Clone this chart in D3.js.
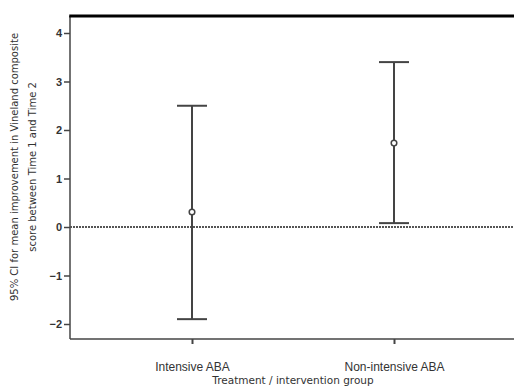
<!DOCTYPE html>
<html>
<head>
<meta charset="utf-8">
<script src="https://cdn.jsdelivr.net/npm/d3@7"></script>
<style>
  body { margin: 0; background: #fff; }
  svg { display: block; font-family: "DejaVu Sans", sans-serif; }
</style>
</head>
<body>
<div class="chart"></div>
<script>
const groups = ["Intensive ABA", "Non-intensive ABA"]
const means = [0.31, 1.73]
const lowers = [-1.9, 0.08]
const uppers = [2.5, 3.4]
const yTicks = [-2, -1, 0, 1, 2, 3, 4]

const width = 514
const height = 387
const margin = { top: 16, right: 0, bottom: 48, left: 70 }

const svg = d3.select(".chart").append("svg")
    .attr("width", width)
    .attr("height", height)

const xScale = d3.scalePoint()
  .domain(groups)
  .range([192, 394])

const yScale = d3.scaleLinear()
  .domain([0, 4])
  .range([227, 33])

const ink = "#444"

// y axis
const yAxis = svg.append("g")
    .attr("transform", `translate(${margin.left},0)`)
    .call(d3.axisLeft(yScale).tickValues(yTicks).tickSize(6).tickFormat(d3.format("d")))
yAxis.select(".domain").remove()
yAxis.selectAll(".tick line").attr("stroke", ink).attr("stroke-width", 1.5)
yAxis.selectAll(".tick text")
    .attr("fill", "#333")
    .attr("font-size", 11)
    .attr("font-weight", "bold")
    .attr("x", -8)

svg.append("line")
    .attr("x1", margin.left).attr("x2", margin.left)
    .attr("y1", margin.top).attr("y2", height - margin.bottom)
    .attr("stroke", ink).attr("stroke-width", 1.5)

// x axis
const xAxis = svg.append("g")
    .attr("transform", `translate(0,${height - margin.bottom})`)
    .call(d3.axisBottom(xScale).tickSize(5))
xAxis.select(".domain").remove()
xAxis.selectAll(".tick line").attr("stroke", ink).attr("stroke-width", 2)
xAxis.selectAll(".tick text")
    .attr("fill", "#333")
    .attr("font-size", 12)
    .attr("y", 23)

svg.append("line")
    .attr("x1", margin.left).attr("x2", width)
    .attr("y1", height - margin.bottom).attr("y2", height - margin.bottom)
    .attr("stroke", ink).attr("stroke-width", 1.5)

// top border
svg.append("line")
    .attr("x1", margin.left - 0.75).attr("x2", width)
    .attr("y1", margin.top).attr("y2", margin.top)
    .attr("stroke", "#000").attr("stroke-width", 3)

// zero reference line
svg.append("line")
    .attr("x1", margin.left).attr("x2", width)
    .attr("y1", yScale(0)).attr("y2", yScale(0))
    .attr("stroke", "#555").attr("stroke-width", 2)
    .attr("stroke-dasharray", "2,1")

// error bars
const bars = svg.selectAll(".bar")
  .data(groups)
  .join("g")
    .attr("class", "bar")

bars.append("line")
    .attr("x1", d => xScale(d)).attr("x2", d => xScale(d))
    .attr("y1", (d, i) => yScale(uppers[i]))
    .attr("y2", (d, i) => yScale(lowers[i]))
    .attr("stroke", ink).attr("stroke-width", 2)

bars.append("line")
    .attr("x1", d => xScale(d) - 15).attr("x2", d => xScale(d) + 15)
    .attr("y1", (d, i) => yScale(uppers[i]))
    .attr("y2", (d, i) => yScale(uppers[i]))
    .attr("stroke", ink).attr("stroke-width", 2)

bars.append("line")
    .attr("x1", d => xScale(d) - 15).attr("x2", d => xScale(d) + 15)
    .attr("y1", (d, i) => yScale(lowers[i]))
    .attr("y2", (d, i) => yScale(lowers[i]))
    .attr("stroke", ink).attr("stroke-width", 2)

bars.append("circle")
    .attr("cx", d => xScale(d))
    .attr("cy", (d, i) => yScale(means[i]))
    .attr("r", 2.8)
    .attr("fill", "#fff")
    .attr("stroke", ink).attr("stroke-width", 1.5)

// axis titles
svg.append("text")
    .attr("x", 293).attr("y", 384)
    .attr("text-anchor", "middle")
    .attr("font-size", 10.5)
    .attr("fill", "#333")
    .text("Treatment / intervention group")

const yTitle = svg.append("text")
    .attr("transform", "translate(18,167) rotate(-90)")
    .attr("text-anchor", "middle")
    .attr("font-size", 10)
    .attr("fill", "#333")
yTitle.append("tspan").attr("x", 0).attr("dy", 0)
    .text("95% CI for mean improvement in Vineland composite")
yTitle.append("tspan").attr("x", 0).attr("dy", 18)
    .text("score between Time 1 and Time 2")
</script>
</body>
</html>
